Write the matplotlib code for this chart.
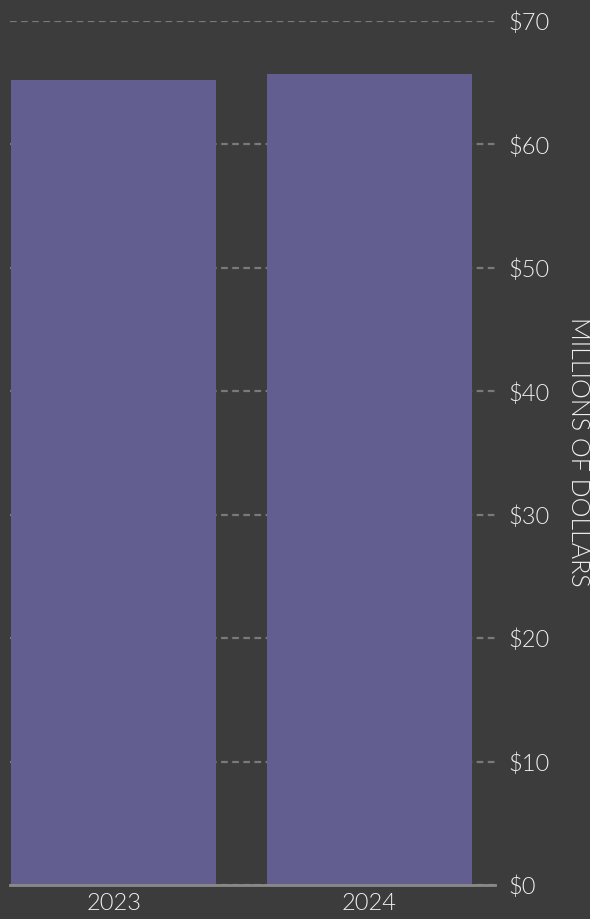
import matplotlib
matplotlib.use("Agg")
import matplotlib.pyplot as plt
from matplotlib.ticker import FuncFormatter

years = ["2023", "2024"]
values = [65.2, 65.7]
yticks = [0, 10, 20, 30, 40, 50, 60, 70]

BG = "#3c3c3c"
BAR = "#625e8f"
TXT = "#f0f0f0"
GRID = "#7a7a7a"

plt.rcParams['font.family'] = ['Lato', 'DejaVu Sans']
W = 300

fig = plt.figure(figsize=(5.9, 9.19), dpi=100, facecolor=BG)
ax = fig.add_axes([10/590, 34/919, 485/590, 864/919])
ax.set_facecolor(BG)

x = list(range(len(years)))
ax.bar(x, values, width=0.8, color=BAR, zorder=2)
ax.set_xlim(-0.405, 1.49)
ax.set_ylim(0, 70)

ax.yaxis.tick_right()
ax.set_yticks(yticks)
ax.yaxis.set_major_formatter(FuncFormatter(lambda v, p: f"${int(v)}"))
ax.set_xticks(x)
ax.set_xticklabels(years)

ax.grid(axis='y', color=GRID, linestyle=(0, (3, 2)), linewidth=1.6, zorder=1)
ax.set_axisbelow(True)

for s in ["top", "left", "right"]:
    ax.spines[s].set_visible(False)
ax.spines["bottom"].set_color("#8a8a8a")
ax.spines["bottom"].set_linewidth(2)
ax.spines["bottom"].set_zorder(3)

ax.tick_params(axis='y', length=0, pad=10, labelsize=17, labelcolor=TXT)
ax.tick_params(axis='x', length=0, pad=6, labelsize=17, labelcolor=TXT)
for lbl in ax.get_yticklabels() + ax.get_xticklabels():
    lbl.set_fontweight(W)

fig.text(578/590, 1 - 452/919, "MILLIONS OF DOLLARS", rotation=270, color=TXT,
         fontsize=18, fontweight=W, ha='center', va='center')

fig.savefig("out.png", dpi=100, facecolor=BG)
